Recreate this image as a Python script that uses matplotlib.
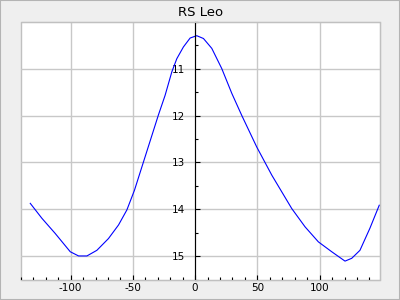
import matplotlib.pyplot as plt
from matplotlib.ticker import MultipleLocator, FixedLocator

# phase (days) vs magnitude
phase = [-132.4, -123, -112.4, -100.3, -93.6, -86.9, -78.9, -69.6, -61.5, -54.8, -48.7,
         -41.5, -29.5, -24.1, -18.7, -14.7, -9.4, -4.0, 1.3, 6.7, 13.4, 21.4, 29.5, 37.5,
         49.5, 61.6, 77.6, 88.3, 99, 109.7, 120.4, 125.8, 132.4, 140.4, 147.9]
mag = [13.87, 14.19, 14.51, 14.90, 14.99, 14.99, 14.87, 14.62, 14.33, 14.01, 13.59,
       12.99, 11.99, 11.57, 11.07, 10.79, 10.54, 10.35, 10.30, 10.36, 10.57, 11.00, 11.53, 12.00,
       12.67, 13.27, 13.98, 14.37, 14.69, 14.90, 15.10, 15.04, 14.87, 14.40, 13.91]

y_major = [11, 12, 13, 14, 15]

plt.rcParams['axes.unicode_minus'] = False

fig = plt.figure(figsize=(4, 3), dpi=100, facecolor='#efefef')
fig.patches.append(plt.Rectangle((0, 0), 1, 1, transform=fig.transFigure,
                                 fill=False, edgecolor='#b4b4b4', linewidth=1.5))
ax = fig.add_axes([0.052, 0.067, 0.898, 0.861])

ax.plot(phase, mag, color='blue', linewidth=0.8)

ax.set_xlim(-140, 148.5)
ax.set_ylim(15.5, 10)
ax.set_title('RS Leo', fontsize=9.5, pad=4)

ax.xaxis.set_major_locator(MultipleLocator(50))
ax.xaxis.set_minor_locator(MultipleLocator(10))
ax.yaxis.set_major_locator(FixedLocator(y_major))
ax.yaxis.set_minor_locator(MultipleLocator(0.5))

ax.grid(True, which='major', color='#c8c8c8', linewidth=1)
ax.set_axisbelow(True)

# vertical axis drawn through x = 0, rest of the frame in light grey
ax.spines['left'].set_position(('data', 0))
ax.spines['left'].set_color('black')
for s in ['top', 'right', 'bottom']:
    ax.spines[s].set_color('#c0c0c0')
ax.patch.set_edgecolor('#c0c0c0')
ax.patch.set_linewidth(1)

ax.tick_params(axis='x', which='both', direction='in', labelsize=7.5, pad=2.5)
ax.tick_params(axis='y', which='both', direction='in', labelsize=7.5, pad=7)
ax.tick_params(which='major', length=3.5, width=0.8)
ax.tick_params(which='minor', length=2.5, width=0.8)

plt.savefig('out.png', dpi=100, facecolor=fig.get_facecolor())
